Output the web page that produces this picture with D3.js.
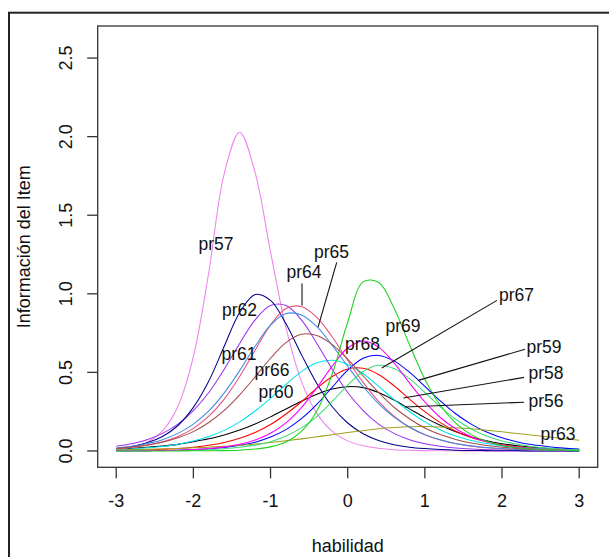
<!DOCTYPE html>
<html><head><meta charset="utf-8">
<script src="https://cdn.jsdelivr.net/npm/d3@7"></script>
<style>
html,body{margin:0;padding:0;background:#fff;}
svg{display:block;font-family:"Liberation Sans",Arial,sans-serif;}
</style></head>
<body>
<svg id="chart" width="609" height="557"></svg>
<script>
// ability grid (theta)
const theta = [-3,-2.8,-2.6,-2.4,-2.2,-2,-1.8,-1.6,-1.4,-1.2,-1,-0.8,-0.6,-0.4,-0.2,0,0.2,0.4,0.6,0.8,1,1.2,1.4,1.6,1.8,2,2.2,2.4,2.6,2.8,3];
const xTicks = [-3,-2,-1,0,1,2,3];
const yTicks = [0,0.5,1,1.5,2,2.5];
const yTickLabels = ["0.0","0.5","1.0","1.5","2.0","2.5"];

// item information values
const pr56 = [0.012,0.017,0.023,0.031,0.042,0.058,0.077,0.102,0.133,0.172,0.217,0.267,0.316,0.361,0.394,0.409,0.403,0.372,0.324,0.268,0.212,0.163,0.122,0.089,0.065,0.046,0.033,0.023,0.016,0.011,0.008];
const pr57 = [0.011,0.024,0.056,0.128,0.285,0.601,1.137,1.765,2.028,1.771,1.266,0.784,0.443,0.239,0.124,0.064,0.033,0.017,0.008,0.004,0.002,0.001,0.001,0,0,0,0,0,0,0,0];
const pr58 = [0.003,0.005,0.007,0.011,0.016,0.024,0.036,0.054,0.081,0.117,0.168,0.235,0.313,0.399,0.474,0.522,0.526,0.487,0.415,0.330,0.250,0.180,0.126,0.086,0.059,0.039,0.026,0.017,0.012,0.008,0.005];
const pr59 = [0.001,0.001,0.002,0.003,0.005,0.009,0.014,0.022,0.036,0.056,0.089,0.136,0.206,0.297,0.406,0.514,0.590,0.608,0.573,0.501,0.411,0.319,0.237,0.171,0.120,0.084,0.057,0.039,0.027,0.018,0.012];
const pr60 = [0.009,0.013,0.020,0.029,0.043,0.063,0.092,0.131,0.185,0.254,0.335,0.423,0.505,0.561,0.577,0.550,0.491,0.411,0.327,0.251,0.185,0.133,0.095,0.067,0.047,0.032,0.022,0.015,0.011,0.007,0.005];
const pr61 = [0.030,0.046,0.072,0.112,0.171,0.257,0.372,0.520,0.684,0.834,0.925,0.925,0.834,0.684,0.520,0.372,0.257,0.171,0.112,0.072,0.046,0.030,0.019,0.012,0.008,0.005,0.003,0.002,0.001,0.001,0];
const pr62 = [0.016,0.029,0.052,0.092,0.162,0.277,0.445,0.666,0.881,0.996,0.958,0.809,0.613,0.429,0.281,0.178,0.110,0.067,0.040,0.024,0.015,0.009,0.005,0.003,0.002,0.001,0.001,0,0,0,0];
const pr63 = [0.007,0.008,0.010,0.013,0.016,0.020,0.024,0.030,0.036,0.044,0.054,0.065,0.077,0.090,0.103,0.117,0.129,0.141,0.149,0.154,0.155,0.153,0.148,0.141,0.132,0.122,0.111,0.100,0.089,0.078,0.068];
const pr64 = [0.014,0.023,0.036,0.058,0.092,0.144,0.221,0.330,0.474,0.641,0.802,0.907,0.919,0.850,0.725,0.577,0.436,0.315,0.221,0.151,0.103,0.069,0.046,0.030,0.020,0.013,0.009,0.006,0.004,0.003,0.002];
const pr65 = [0.019,0.030,0.047,0.072,0.112,0.171,0.255,0.370,0.511,0.666,0.800,0.874,0.865,0.791,0.672,0.539,0.410,0.301,0.215,0.152,0.104,0.071,0.048,0.033,0.022,0.015,0.010,0.007,0.005,0.003,0.002];
const pr66 = [0.016,0.025,0.038,0.056,0.084,0.123,0.181,0.258,0.357,0.471,0.590,0.689,0.742,0.735,0.677,0.584,0.477,0.372,0.278,0.205,0.146,0.104,0.073,0.050,0.035,0.024,0.016,0.011,0.008,0.005,0.004];
const pr67 = [0,0.001,0.001,0.002,0.003,0.005,0.008,0.014,0.023,0.037,0.059,0.095,0.147,0.219,0.315,0.419,0.506,0.545,0.524,0.460,0.372,0.281,0.202,0.140,0.095,0.064,0.042,0.027,0.018,0.011,0.007];
const pr68 = [0.001,0.001,0.002,0.003,0.005,0.009,0.015,0.026,0.042,0.070,0.113,0.179,0.276,0.402,0.540,0.655,0.700,0.661,0.561,0.433,0.312,0.213,0.141,0.091,0.058,0.036,0.023,0.014,0.009,0.005,0.003];
const pr69 = [0,0,0,0,0,0.001,0.001,0.002,0.005,0.012,0.026,0.057,0.124,0.254,0.491,0.819,1.076,1.073,0.909,0.677,0.457,0.291,0.177,0.104,0.061,0.035,0.020,0.012,0.007,0.004,0.002];

const itemNames = ["pr56","pr57","pr58","pr59","pr60","pr61","pr62","pr63","pr64","pr65","pr66","pr67","pr68","pr69"];
const itemValues = [pr56,pr57,pr58,pr59,pr60,pr61,pr62,pr63,pr64,pr65,pr66,pr67,pr68,pr69];
const itemColors = ["#000000","#EE82EE","#FF0000","#0000FF","#00E5EE","#9A32F0","#00008B","#A0A020","#E8507A","#3C8CE6","#A64B4B","#3CDC78","#FF00FF","#1ED01E"];

// label positions (theta, info) and leader lines
const labelNames = ["pr57","pr62","pr61","pr66","pr60","pr64","pr65","pr68","pr69","pr67","pr59","pr58","pr56","pr63"];
const labelTheta = [-1.707,-1.402,-1.408,-0.981,-0.929,-0.566,-0.210,0.192,0.717,2.188,2.544,2.570,2.570,2.725];
const labelInfo  = [1.320,0.894,0.615,0.513,0.373,1.136,1.263,0.678,0.793,0.990,0.659,0.493,0.321,0.105];
const leaderNames = ["pr64","pr65","pr67","pr59","pr58","pr56"];
const leaderTheta1 = [-0.592,-0.1425,1.935,2.298,2.285,2.285];
const leaderInfo1  = [1.066,1.200,0.958,0.647,0.468,0.310];
const leaderTheta2 = [-0.592,-0.385,0.441,0.915,0.721,0.743];
const leaderInfo2  = [0.926,0.786,0.528,0.449,0.337,0.280];

const svg = d3.select("#chart");
const x = d3.scaleLinear().domain([-3.24,3.24]).range([97.7,597.7]);
const y = d3.scaleLinear().domain([-0.104,2.704]).range([467.3,26]);

// outer figure frame
svg.append("rect").attr("x",9).attr("y",12.7).attr("width",700).attr("height",700)
  .attr("fill","none").attr("stroke","#222").attr("stroke-width",2);

// curves
const line = d3.line().x((d,i)=>x(theta[i])).y(d=>y(d)).curve(d3.curveCatmullRom.alpha(0.5));
const g = svg.append("g");
itemValues.forEach((vals,k)=>{
  g.append("path").attr("d",line(vals)).attr("fill","none")
   .attr("stroke",itemColors[k]).attr("stroke-width",1.05);
});

// plot box
svg.append("rect").attr("x",97.7).attr("y",26).attr("width",500).attr("height",441.3)
  .attr("fill","none").attr("stroke","#333").attr("stroke-width",1.3);

// x axis
const xa = svg.append("g");
xa.selectAll("line").data(xTicks).join("line")
  .attr("x1",d=>x(d)).attr("x2",d=>x(d)).attr("y1",467.3).attr("y2",478.3)
  .attr("stroke","#333").attr("stroke-width",1.3);
xa.selectAll("text").data(xTicks).join("text")
  .attr("x",d=>x(d)).attr("y",507).attr("text-anchor","middle")
  .attr("font-size",18).attr("fill","#111").text(d=>d);

// y axis
const ya = svg.append("g");
ya.selectAll("line").data(yTicks).join("line")
  .attr("x1",87.2).attr("x2",97.7).attr("y1",d=>y(d)).attr("y2",d=>y(d))
  .attr("stroke","#333").attr("stroke-width",1.3);
ya.selectAll("text").data(yTicks).join("text")
  .attr("transform",d=>`translate(72,${y(d)}) rotate(-90)`)
  .attr("text-anchor","middle").attr("font-size",18).attr("fill","#111")
  .text((d,i)=>yTickLabels[i]);

// axis titles
svg.append("text").attr("x",347.7).attr("y",551.5).attr("text-anchor","middle")
  .attr("font-size",18).attr("fill","#111").text("habilidad");
svg.append("text").attr("transform","translate(29.5,246.7) rotate(-90)")
  .attr("text-anchor","middle").attr("font-size",18).attr("fill","#111").text("Información del Item");

// leader lines
leaderNames.forEach((n,i)=>{
  svg.append("line").attr("x1",x(leaderTheta1[i])).attr("y1",y(leaderInfo1[i]))
    .attr("x2",x(leaderTheta2[i])).attr("y2",y(leaderInfo2[i]))
    .attr("stroke","#111").attr("stroke-width",1.1);
});
// labels
labelNames.forEach((n,i)=>{
  svg.append("text").attr("x",x(labelTheta[i])).attr("y",y(labelInfo[i])+6)
    .attr("text-anchor","middle").attr("font-size",17.5).attr("fill","#111").text(n);
});
</script>
</body></html>
